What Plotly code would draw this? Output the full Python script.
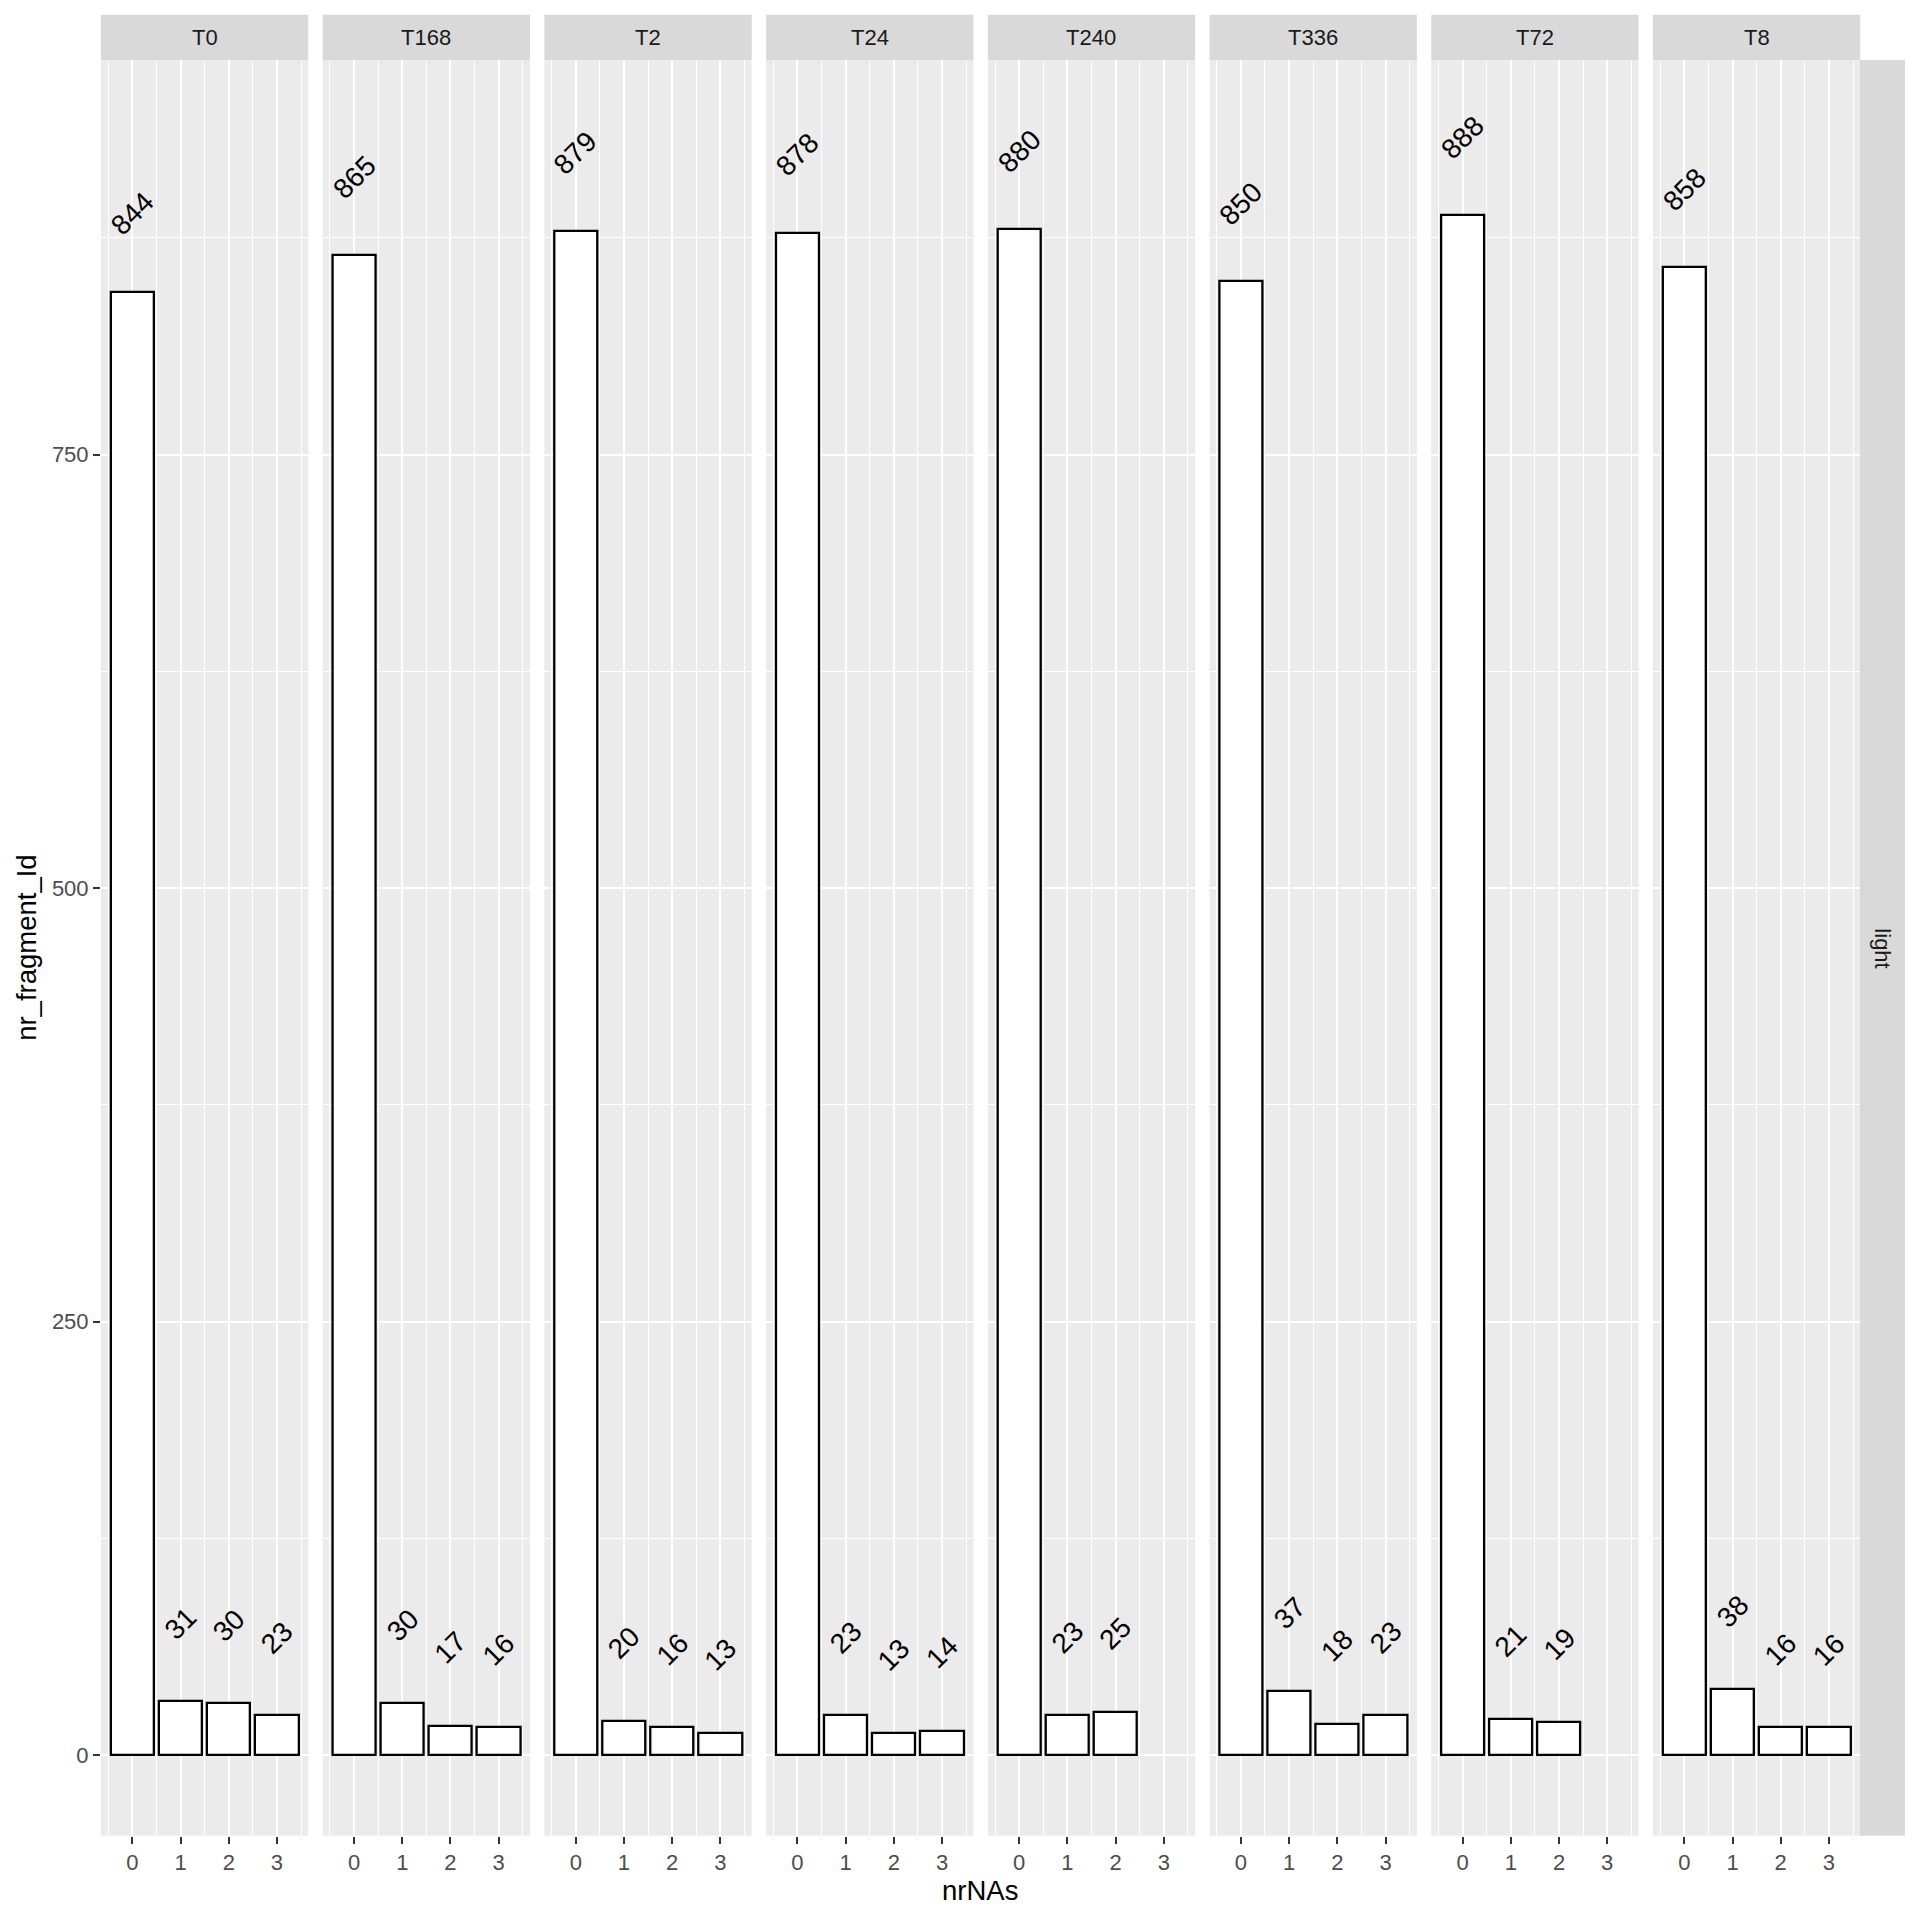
import plotly.graph_objects as go

# ---- data ----
panels = ["T0", "T168", "T2", "T24", "T240", "T336", "T72", "T8"]
nrNAs_T0 = [0, 1, 2, 3]
counts_T0 = [844, 31, 30, 23]
nrNAs_T168 = [0, 1, 2, 3]
counts_T168 = [865, 30, 17, 16]
nrNAs_T2 = [0, 1, 2, 3]
counts_T2 = [879, 20, 16, 13]
nrNAs_T24 = [0, 1, 2, 3]
counts_T24 = [878, 23, 13, 14]
nrNAs_T240 = [0, 1, 2]
counts_T240 = [880, 23, 25]
nrNAs_T336 = [0, 1, 2, 3]
counts_T336 = [850, 37, 18, 23]
nrNAs_T72 = [0, 1, 2]
counts_T72 = [888, 21, 19]
nrNAs_T8 = [0, 1, 2, 3]
counts_T8 = [858, 38, 16, 16]
x_ticks = [0, 1, 2, 3]
y_ticks = [0, 250, 500, 750]
y_minor = [125, 375, 625, 875]
row_label = "light"

data = {
    "T0": (nrNAs_T0, counts_T0),
    "T168": (nrNAs_T168, counts_T168),
    "T2": (nrNAs_T2, counts_T2),
    "T24": (nrNAs_T24, counts_T24),
    "T240": (nrNAs_T240, counts_T240),
    "T336": (nrNAs_T336, counts_T336),
    "T72": (nrNAs_T72, counts_T72),
    "T8": (nrNAs_T8, counts_T8),
}

# ---- style / layout constants ----
W = H = 1920
FONT = "Liberation Sans, Arial, sans-serif"
LABEL_OFFSET = 45
panel_left0 = 101.0
panel_step = 221.71
panel_w = 207.3
panel_top = 60.0
panel_bottom = 1835.7
strip_top = 14.7
rstrip_left = 1860.0
rstrip_right = 1905.0
XR = [-0.65, 3.65]
YR = [-46.4, 977.6]


def px(v):
    return v / W


def py(v):
    return 1 - v / H


fig = go.Figure()
layout = dict(
    width=W, height=H,
    margin=dict(l=0, r=0, t=0, b=0),
    paper_bgcolor="white",
    plot_bgcolor="#EBEBEB",
    showlegend=False,
    font=dict(family=FONT),
    bargap=0,
)
shapes = []
annotations = []

for i, p in enumerate(panels):
    xs, ys = data[p]
    n = "" if i == 0 else str(i + 1)
    left = panel_left0 + i * panel_step
    right = left + panel_w
    fig.add_trace(go.Bar(
        x=xs, y=ys, width=0.9,
        marker=dict(color="white", line=dict(color="black", width=2.3)),
        xaxis="x" + n, yaxis="y" + n,
        hoverinfo="x+y",
    ))
    layout["xaxis" + n] = dict(
        domain=[px(left), px(right)], range=XR, anchor="y" + n,
        tickvals=x_ticks, ticktext=[str(t) for t in x_ticks],
        showgrid=True, gridcolor="white", gridwidth=2,
        minor=dict(tickvals=[-0.5, 0.5, 1.5, 2.5, 3.5], showgrid=True,
                   gridcolor="white", gridwidth=1, ticks=""),
        ticks="outside", ticklen=7, tickwidth=2, tickcolor="#333333",
        tickfont=dict(size=22, color="#4D4D4D", family=FONT),
        zeroline=False, showline=False, fixedrange=True,
    )
    layout["yaxis" + n] = dict(
        domain=[py(panel_bottom), py(panel_top)], range=YR, anchor="x" + n,
        tickvals=y_ticks, ticktext=[str(t) for t in y_ticks],
        showticklabels=(i == 0),
        ticks="outside" if i == 0 else "", ticklen=7, tickwidth=2, tickcolor="#333333",
        tickfont=dict(size=22, color="#4D4D4D", family=FONT),
        showgrid=True, gridcolor="white", gridwidth=2,
        minor=dict(tickvals=y_minor, showgrid=True, gridcolor="white", gridwidth=1, ticks=""),
        zeroline=False, showline=False, fixedrange=True,
    )
    if i > 0:
        layout["yaxis" + n]["matches"] = "y"
    # strip
    shapes.append(dict(type="rect", xref="paper", yref="paper",
                       x0=px(left), x1=px(right), y0=py(panel_top), y1=py(strip_top),
                       fillcolor="#D9D9D9", line=dict(width=0), layer="below"))
    annotations.append(dict(text=p, xref="paper", yref="paper",
                            x=px((left + right) / 2), y=py((strip_top + panel_top) / 2),
                            xanchor="center", yanchor="middle", showarrow=False,
                            font=dict(size=22, color="#1A1A1A", family=FONT)))
    # value labels
    for xv, yv in zip(xs, ys):
        annotations.append(dict(text=str(yv), xref="x" + n, yref="y" + n,
                                x=xv, y=yv + LABEL_OFFSET,
                                xanchor="center", yanchor="middle", showarrow=False,
                                textangle=-45,
                                font=dict(size=28, color="black", family=FONT)))

# right strip
shapes.append(dict(type="rect", xref="paper", yref="paper",
                   x0=px(rstrip_left), x1=px(rstrip_right), y0=py(panel_bottom), y1=py(panel_top),
                   fillcolor="#D9D9D9", line=dict(width=0), layer="below"))
annotations.append(dict(text=row_label, xref="paper", yref="paper",
                        x=px((rstrip_left + rstrip_right) / 2), y=py((panel_top + panel_bottom) / 2),
                        xanchor="center", yanchor="middle", showarrow=False, textangle=90,
                        font=dict(size=22, color="#1A1A1A", family=FONT)))
# axis titles
annotations.append(dict(text="nrNAs", xref="paper", yref="paper",
                        x=px((panel_left0 + rstrip_left) / 2), y=py(1890),
                        xanchor="center", yanchor="middle", showarrow=False,
                        font=dict(size=27.5, color="black", family=FONT)))
annotations.append(dict(text="nr_fragment_Id", xref="paper", yref="paper",
                        x=px(27), y=py((panel_top + panel_bottom) / 2),
                        xanchor="center", yanchor="middle", showarrow=False, textangle=-90,
                        font=dict(size=27.5, color="black", family=FONT)))

layout["shapes"] = shapes
layout["annotations"] = annotations
fig.update_layout(**layout)
fig.write_html("out.html")
